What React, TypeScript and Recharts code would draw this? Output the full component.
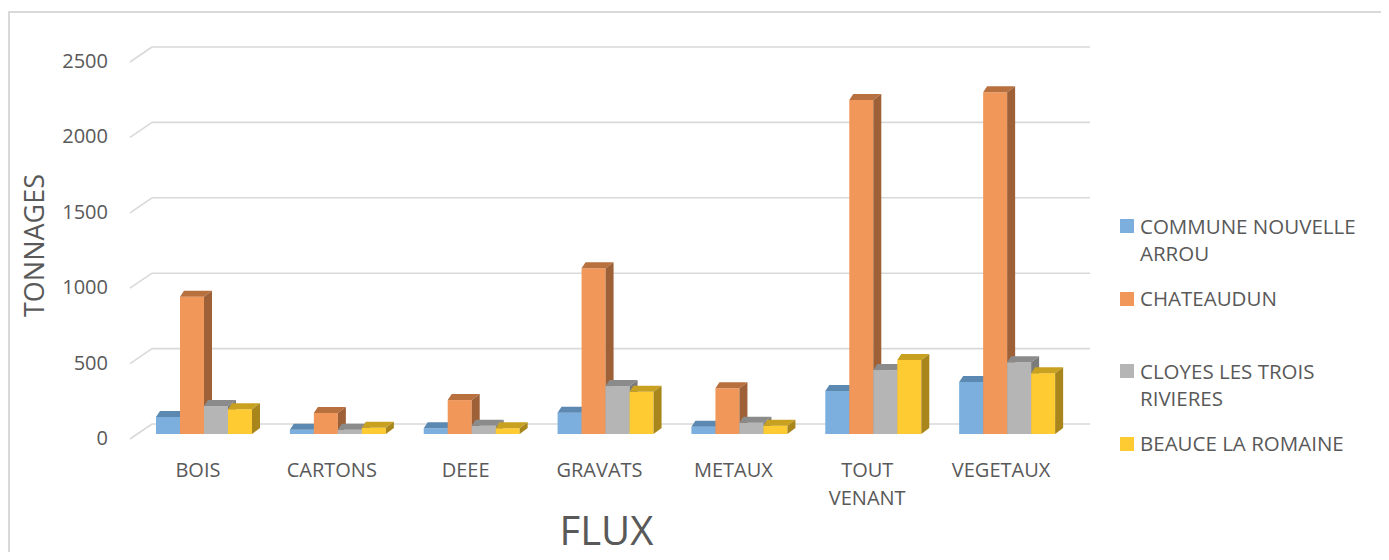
import { Bar, BarChart, CartesianGrid, Legend, XAxis, YAxis } from 'recharts'

const CATEGORIES = ['BOIS', 'CARTONS', 'DEEE', 'GRAVATS', 'METAUX', 'TOUT VENANT', 'VEGETAUX']
const ARROU = [113, 28, 38, 141, 48, 285, 345]
const CHATEAUDUN = [910, 139, 225, 1099, 303, 2215, 2266]
const CLOYES = [186, 28, 55, 318, 75, 424, 476]
const BEAUCE = [164, 41, 38, 280, 55, 491, 403]
const SERIES_NAMES = ['COMMUNE NOUVELLE ARROU', 'CHATEAUDUN', 'CLOYES LES TROIS RIVIERES', 'BEAUCE LA ROMAINE']
const Y_TICKS = [0, 500, 1000, 1500, 2000, 2500]

const TEXT = '#595959'
const GRID = '#d9d9d9'

const SERIES = [
  { key: 'arrou', name: SERIES_NAMES[0], values: ARROU, front: '#7cafdd', top: '#5c89b1', side: '#4f7ba4' },
  { key: 'chateaudun', name: SERIES_NAMES[1], values: CHATEAUDUN, front: '#f1975a', top: '#b9703f', side: '#9d6037' },
  { key: 'cloyes', name: SERIES_NAMES[2], values: CLOYES, front: '#b5b5b5', top: '#8b8b8b', side: '#7b7b7b' },
  { key: 'beauce', name: SERIES_NAMES[3], values: BEAUCE, front: '#ffcb33', top: '#c9a121', side: '#a8861c' },
]

const data = CATEGORIES.map((flux, i) => {
  const row: Record<string, string | number> = { flux }
  SERIES.forEach((s) => {
    row[s.key] = s.values[i]
  })
  return row
})

// column drawn as a front face + top + right side, Excel 3D style
function Bar3D(props: Record<string, unknown>) {
  const { x, y, width, height, front, top, side } = props as {
    x: number
    y: number
    width: number
    height: number
    front: string
    top: string
    side: string
  }
  if (width == null || height == null) return null
  const dl = 4
  const dr = 8
  const dy = 6
  const b = y + height
  return (
    <g>
      <rect x={x} y={y} width={width} height={height} fill={front} />
      <polygon
        points={`${x},${y} ${x + dl},${y - dy} ${x + width + dr},${y - dy} ${x + width},${y}`}
        fill={top}
      />
      <polygon
        points={`${x + width},${y} ${x + width + dr},${y - dy} ${x + width + dr},${b - dy} ${x + width},${b}`}
        fill={side}
      />
    </g>
  )
}

// back wall line + diagonal on the side wall
function GridLine3D(props: Record<string, unknown>) {
  const { x1, x2, y1 } = props as { x1: number; x2: number; y1: number }
  return (
    <g>
      <line x1={x1 - 8} y1={y1 + 5} x2={x1 + 14} y2={y1 - 10} stroke={GRID} strokeWidth={1.6} />
      <line x1={x1 + 14} y1={y1 - 10} x2={x2 + 15} y2={y1 - 10} stroke={GRID} strokeWidth={1.6} />
    </g>
  )
}

function YTick(props: Record<string, unknown>) {
  const { x, y, payload } = props as { x: number; y: number; payload: { value: number } }
  return (
    <text x={x} y={y + 11} textAnchor="end" fill={TEXT} fontSize={20}>
      {payload.value}
    </text>
  )
}

function XTick(props: Record<string, unknown>) {
  const { x, y, payload } = props as { x: number; y: number; payload: { value: string } }
  const lines = String(payload.value).split(' ')
  return (
    <text textAnchor="middle" fill={TEXT} fontSize={20}>
      {lines.map((ln, i) => (
        <tspan key={i} x={x - 7} y={y + 43 + i * 28}>
          {ln}
        </tspan>
      ))}
    </text>
  )
}

function LegendBox(props: Record<string, unknown>) {
  const { payload } = props as { payload?: { value: string; color: string }[] }
  // keep the series order, not the alphabetical one
  const items = [...(payload ?? [])].sort(
    (a, b) => SERIES_NAMES.indexOf(a.value) - SERIES_NAMES.indexOf(b.value)
  )
  return (
    <div style={{ color: TEXT, fontSize: 20.5, lineHeight: '27px' }}>
      {items.map((p) => (
        <div key={p.value} style={{ height: 72.5, display: 'flex', alignItems: 'flex-start' }}>
          <span
            style={{ width: 14, height: 14, background: p.color, marginTop: 6.5, marginRight: 6, flex: 'none' }}
          />
          <span style={{ width: 232 }}>{p.value}</span>
        </div>
      ))}
    </div>
  )
}

export default function App() {
  return (
    <div style={{ paddingTop: 3, marginBottom: -8, fontFamily: '"Open Sans", sans-serif' }}>
      <div style={{ position: 'relative', width: 1373, height: 549, boxShadow: `inset 2px 2px 0 ${GRID}` }}>
        <BarChart
          width={1373}
          height={549}
          data={data}
          margin={{ top: 46, right: 306, bottom: 11, left: 0 }}
          barCategoryGap={18}
          barGap={0}
        >
          <CartesianGrid vertical={false} horizontal={(p: unknown) => <GridLine3D {...(p as Record<string, unknown>)} />} />
          <XAxis
            dataKey="flux"
            height={115}
            axisLine={false}
            tickLine={false}
            tickSize={0}
            tickMargin={0}
            interval={0}
            tick={XTick}
            label={{ value: 'FLUX', position: 'insideBottom', offset: 4, fontSize: 40, fill: TEXT }}
          />
          <YAxis
            width={130}
            domain={[0, 2500]}
            ticks={Y_TICKS}
            axisLine={false}
            tickLine={false}
            tickSize={0}
            tickMargin={30}
            tick={YTick}
            label={{
              value: 'TONNAGES',
              angle: -90,
              position: 'insideLeft',
              offset: 26,
              fontSize: 27,
              fill: TEXT,
              style: { textAnchor: 'middle' },
            }}
          />
          <Legend
            layout="horizontal"
            align="center"
            verticalAlign="middle"
            content={LegendBox}
            wrapperStyle={{ left: 1112, top: 201.5, width: 260, height: 300 }}
          />
          {SERIES.map((s) => (
            <Bar
              key={s.key}
              dataKey={s.key}
              name={s.name}
              fill={s.front}
              isAnimationActive={false}
              shape={(p: unknown) => (
                <Bar3D {...(p as Record<string, unknown>)} front={s.front} top={s.top} side={s.side} />
              )}
            />
          ))}
        </BarChart>
      </div>
    </div>
  )
}
